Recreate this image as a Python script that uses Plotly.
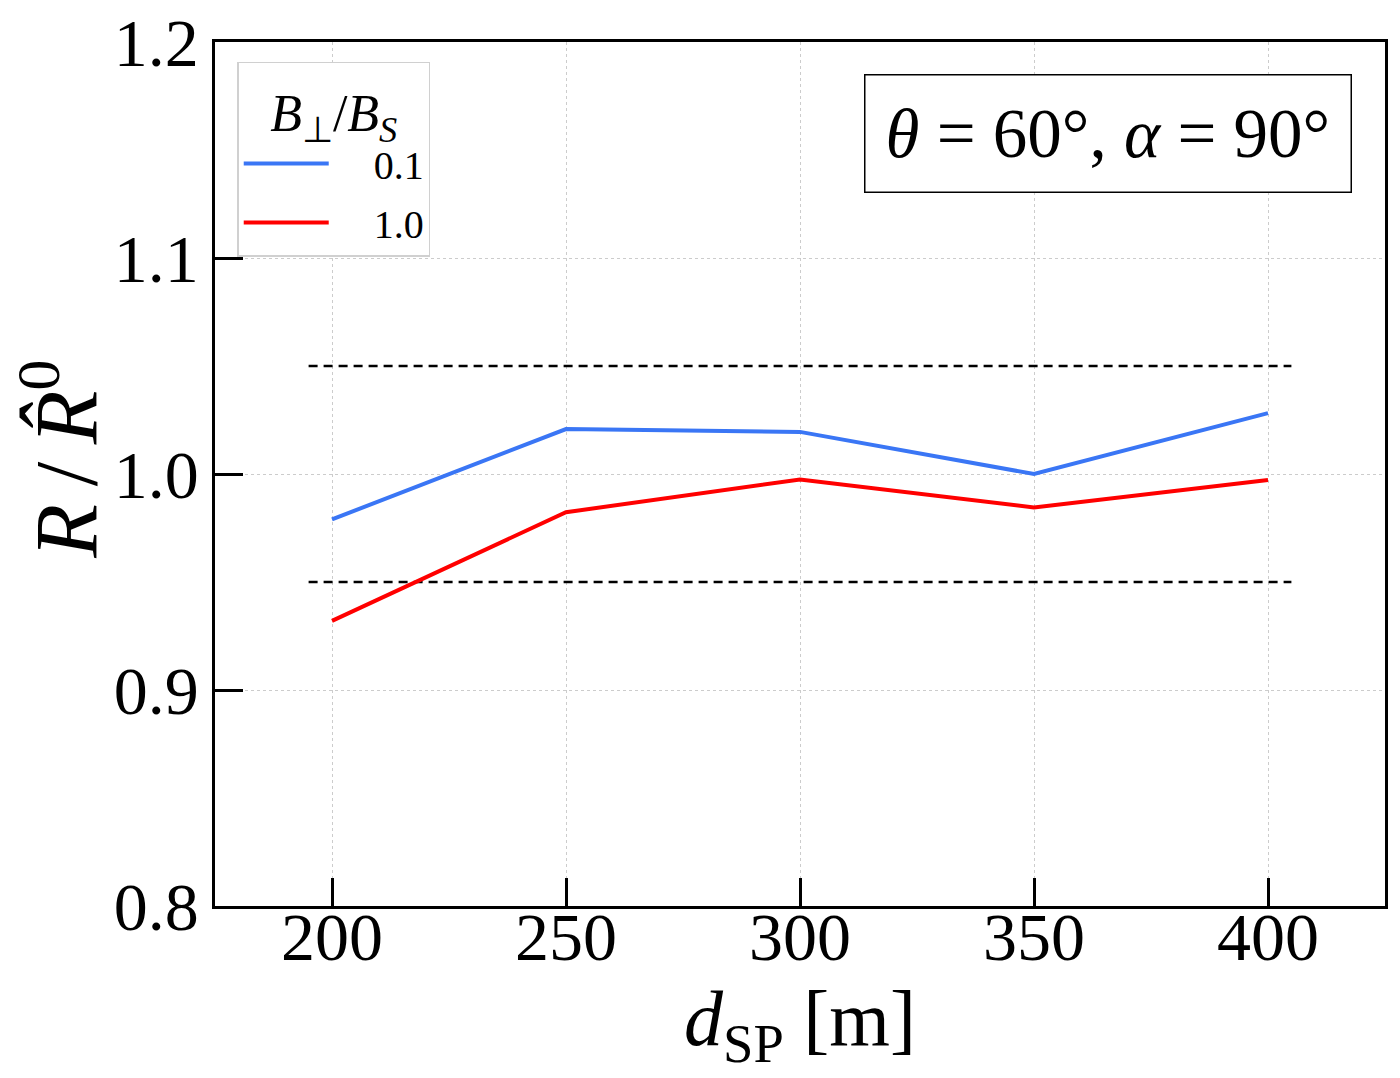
import plotly.graph_objects as go

# Data
d_sp = [200, 250, 300, 350, 400]
ratio_b01 = [0.979, 1.0208, 1.0195, 1.0000, 1.0282]
ratio_b10 = [0.932, 0.9823, 0.9975, 0.9845, 0.9972]
series_names = ["0.1", "1.0"]
band_x = [195, 405]
band_upper = [1.05, 1.05]
band_lower = [0.95, 0.95]
x_ticks = [200, 250, 300, 350, 400]
y_ticks = [0.8, 0.9, 1.0, 1.1, 1.2]

FONT = "Liberation Serif"
NB = "&nbsp;" * 4

fig = go.Figure()
for yv in (band_upper, band_lower):
    fig.add_trace(go.Scatter(x=band_x, y=yv, mode="lines",
                             line=dict(color="black", width=2.5, dash="9px,6px"),
                             showlegend=False, hoverinfo="skip"))
fig.add_trace(go.Scatter(x=d_sp, y=ratio_b01, mode="lines", name=NB + series_names[0],
                         legendgroup="a",
                         line=dict(color="#3a76f5", width=4)))
fig.add_trace(go.Scatter(x=d_sp, y=ratio_b10, mode="lines", name=NB + series_names[1],
                         legendgroup="b",
                         line=dict(color="#ff0000", width=4)))

axis_common = dict(
    showline=True, linecolor="black", linewidth=2.5, mirror=True,
    ticks="inside", ticklen=28, tickwidth=2.5, tickcolor="black",
    showgrid=True, gridcolor="#cccccc", griddash="dot", gridwidth=1,
    zeroline=False, automargin=False, ticklabeloverflow="allow",
    tickfont=dict(family=FONT, size=68, color="black"),
)

# page body has an 8px margin: compensate so the plot sits where the reference has it
fig.update_layout(
    width=1392, height=1070,
    margin=dict(l=207, r=15, t=34, b=172),
    plot_bgcolor="white", paper_bgcolor="white",
    font=dict(family=FONT, color="black"),
    xaxis=dict(range=[175, 425], tickvals=x_ticks,
               ticktext=[str(v) for v in x_ticks],
               ticklabelstandoff=-30,
               title=dict(text="<i>d</i><sub>SP</sub> [m]",
                          font=dict(family=FONT, size=78), standoff=0),
               **axis_common),
    yaxis=dict(range=[0.8, 1.2], tickvals=y_ticks,
               ticktext=[f"{v:.1f}" for v in y_ticks],
               **axis_common),
    legend=dict(
        x=0.019, y=0.977, xanchor="left", yanchor="top",
        bgcolor="white", bordercolor="#d0d0d0", borderwidth=1.5,
        title=dict(text="<i>B</i><sub>⊥</sub>/<i>B</i><sub><i>S</i></sub>",
                   font=dict(family=FONT, size=52), side="top center"),
        font=dict(family=FONT, size=40),
        tracegroupgap=4,
        itemwidth=85,
    ),
    annotations=[
        dict(
            x=0.972, y=0.963, xref="paper", yref="paper",
            xanchor="right", yanchor="top",
            text="<i>θ</i> = 60°, <i>α</i> = 90°",
            font=dict(family=FONT, size=69, color="black"),
            showarrow=False, bordercolor="black", borderwidth=1.5,
            borderpad=20, bgcolor="white",
        ),
        dict(
            x=-0.133, y=0.517, xref="paper", yref="paper",
            xanchor="center", yanchor="middle", textangle=-90,
            text="<i>R</i>&#8201;/&#8201;<i>R̂</i><sup>0</sup>",
            font=dict(family=FONT, size=88, color="black"),
            showarrow=False,
        ),
    ],
)

fig.write_html("out.html")
